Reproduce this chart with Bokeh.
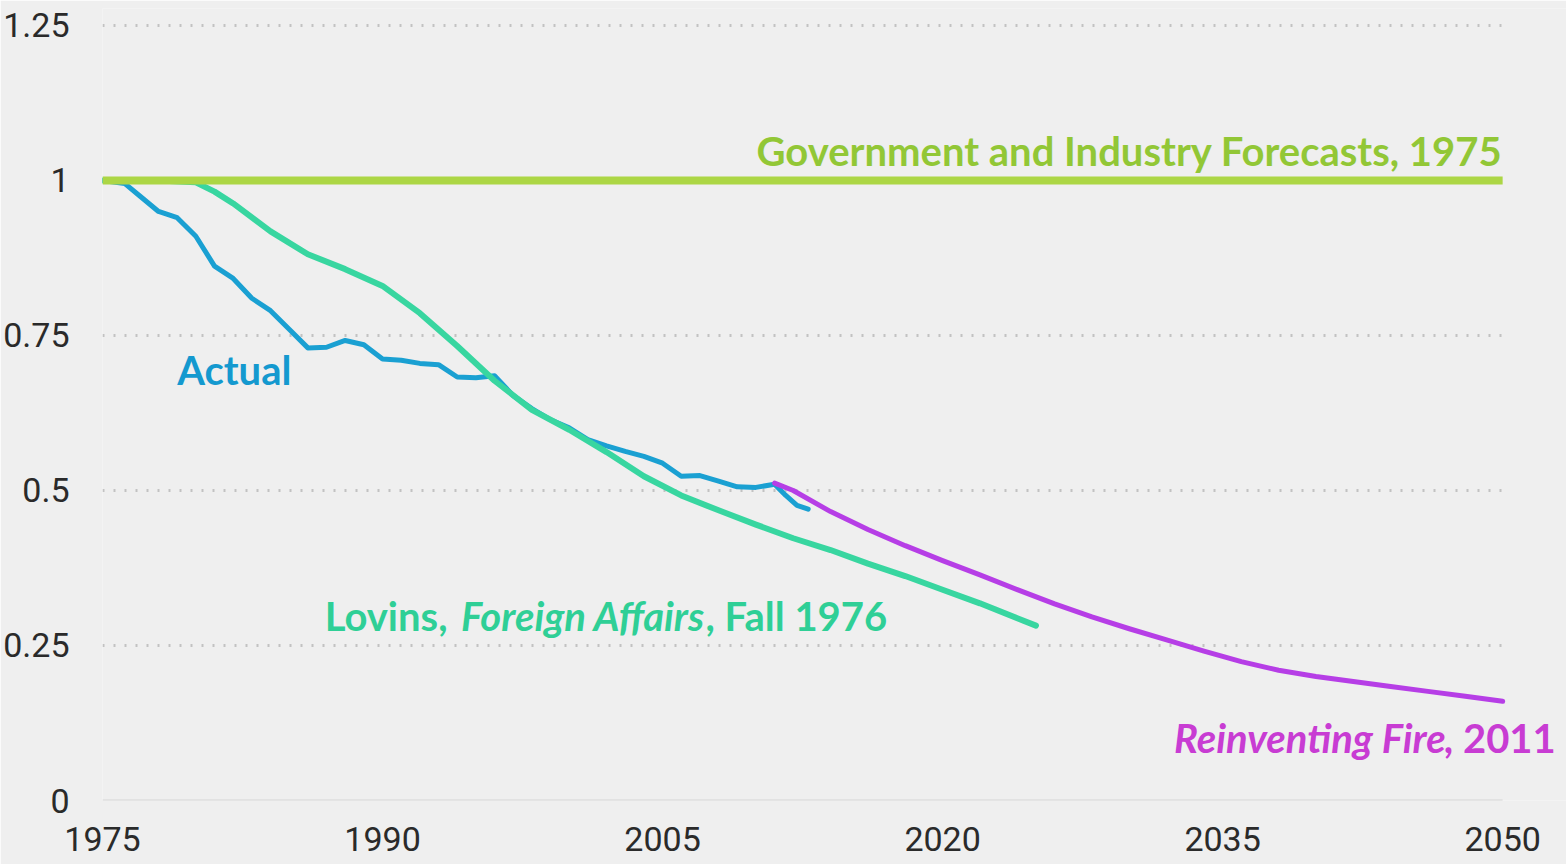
from bokeh.plotting import figure
from bokeh.models import Range1d, Label, FixedTicker
from bokeh.embed import file_html
from bokeh.resources import INLINE

# ---- data ----
gov_years = [1975, 2050]
gov_vals = [1.0, 1.0]

actual_years = [1975.0, 1976.2, 1977.0, 1978.0, 1979.0, 1980.0, 1981.0, 1982.0, 1983.0, 1984.0,
                1985.0, 1986.0, 1987.0, 1988.0, 1989.0, 1990.0, 1991.0, 1992.0, 1993.0, 1994.0,
                1995.0, 1996.0, 1997.0, 1998.0, 1999.0, 2000.0, 2001.0, 2002.0, 2003.0, 2004.0,
                2005.0, 2006.0, 2007.0, 2008.0, 2009.0, 2010.0, 2011.0, 2011.6, 2012.2, 2012.8]
actual_vals = [1.0, 0.995, 0.975, 0.950, 0.940, 0.910, 0.862, 0.842, 0.810, 0.790,
               0.760, 0.730, 0.731, 0.742, 0.735, 0.712, 0.710, 0.705, 0.703, 0.683,
               0.682, 0.685, 0.653, 0.632, 0.614, 0.601, 0.582, 0.572, 0.563, 0.555,
               0.544, 0.523, 0.524, 0.515, 0.506, 0.505, 0.510, 0.492, 0.476, 0.470]

lovins_years = [1975, 1978, 1980, 1981, 1982, 1984, 1986, 1988, 1990, 1992, 1994, 1996, 1998,
                2000, 2002, 2004, 2006, 2008, 2010, 2012, 2014, 2016, 2018, 2020, 2022, 2024, 2025]
lovins_vals = [1.0, 1.0, 0.997, 0.982, 0.963, 0.918, 0.881, 0.857, 0.830, 0.786, 0.733, 0.677, 0.630,
               0.598, 0.562, 0.523, 0.492, 0.468, 0.445, 0.423, 0.404, 0.382, 0.362, 0.340, 0.318,
               0.294, 0.282]

rf_years = [2011, 2012, 2014, 2016, 2018, 2020, 2022, 2024, 2026, 2028, 2030, 2032, 2034,
            2036, 2038, 2040, 2042, 2044, 2046, 2048, 2050]
rf_vals = [0.512, 0.500, 0.466, 0.437, 0.411, 0.387, 0.364, 0.340, 0.317, 0.296, 0.277, 0.259,
           0.241, 0.224, 0.210, 0.200, 0.192, 0.184, 0.176, 0.168, 0.160]

x_ticks = [1975, 1990, 2005, 2020, 2035, 2050]
y_ticks = [0, 0.25, 0.5, 0.75, 1, 1.25]
y_tick_labels = {0: "0", 0.25: "0.25", 0.5: "0.5", 0.75: "0.75", 1: "1", 1.25: "1.25"}
dotted_grid = [0.25, 0.5, 0.75, 1.0, 1.25]

# ---- styles ----
BG = "#efefef"
GOV_LINE, GOV_TEXT = "#acd645", "#92c736"
ACT_LINE, ACT_TEXT = "#1aa0d2", "#1499cf"
LOV_LINE, LOV_TEXT = "#38d6a0", "#2fcf96"
RF_LINE, RF_TEXT = "#b63ee6", "#c83cd3"
LABEL_FONT = "Lato"
TICK_FONT = "Liberation Sans Narrow, Roboto"

X0, X1 = gov_years[0], gov_years[-1]
p = figure(width=1566, height=864, output_backend="svg", toolbar_location=None,
           x_range=Range1d(1975, 2053.42), y_range=Range1d(0, 1.2774),
           min_border_left=100, min_border_right=0, min_border_top=8, min_border_bottom=64)
p.background_fill_color = BG
p.border_fill_color = BG
p.outline_line_color = None
p.xgrid.grid_line_color = None
p.ygrid.grid_line_color = None

p.xaxis.ticker = FixedTicker(ticks=x_ticks)
p.yaxis.ticker = FixedTicker(ticks=y_ticks)
p.yaxis.major_label_overrides = y_tick_labels
for ax in (p.xaxis, p.yaxis):
    ax.major_tick_line_color = None
    ax.minor_tick_line_color = None
    ax.axis_line_color = None
    ax.major_label_text_font = TICK_FONT
    ax.major_label_text_font_size = "34px"
    ax.major_label_text_color = "#2a2a2a"
p.xaxis.major_label_standoff = 20
p.yaxis.major_label_standoff = 27

# grid lines spanning only the data years
p.segment(x0=[X0] * len(dotted_grid), y0=dotted_grid, x1=[X1] * len(dotted_grid), y1=dotted_grid,
          line_color="#c2c2c2", line_width=3, line_dash="2 9")
p.segment(x0=[X0], y0=[0], x1=[X1], y1=[0], line_color="#d6d6d6", line_width=2)

p.line(actual_years, actual_vals, line_color=ACT_LINE, line_width=5, line_join="round", line_cap="round")
p.line(lovins_years, lovins_vals, line_color=LOV_LINE, line_width=6, line_join="round", line_cap="round")
p.line(rf_years, rf_vals, line_color=RF_LINE, line_width=5, line_join="round", line_cap="round")
p.line(gov_years, gov_vals, line_color=GOV_LINE, line_width=8)

def lab(x, y, text, color, style="bold", align="left"):
    p.add_layout(Label(x=x, y=y, text=text, text_color=color, text_font=LABEL_FONT,
                       text_font_style=style, text_font_size="40px",
                       text_align=align, text_baseline="alphabetic"))

lab(2050, 1.048, "Government and Industry Forecasts, 1975", GOV_TEXT, align="right")
lab(1979.0, 0.695, "Actual", ACT_TEXT)
lab(1986.9, 0.298, "Lovins,", LOV_TEXT)
lab(1994.2, 0.298, "Foreign Affairs", LOV_TEXT, style="bold italic")
lab(2007.3, 0.298, ", Fall 1976", LOV_TEXT)
lab(2032.4, 0.101, "Reinventing Fire", RF_TEXT, style="bold italic")
lab(2046.85, 0.101, ", 2011", RF_TEXT)

open("out.html", "w").write(file_html(p, INLINE))
